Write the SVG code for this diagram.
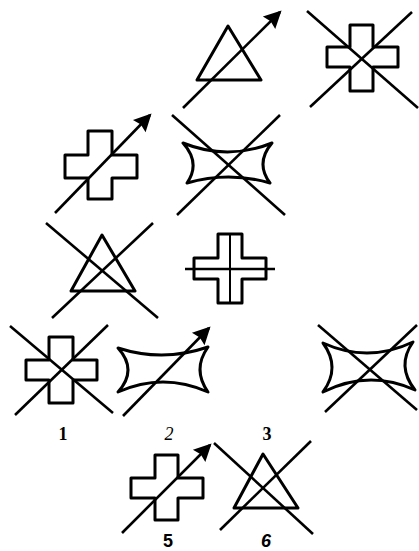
<svg xmlns="http://www.w3.org/2000/svg" width="419" height="551" viewBox="0 0 419 551">
<style>
.s{fill:none;stroke:#000;stroke-width:3;stroke-linejoin:round}
.l{fill:none;stroke:#000;stroke-width:2.6;stroke-linecap:butt}
.a{fill:none;stroke:#000;stroke-width:2.6;marker-end:url(#ah)}
.n{font-size:18px;fill:#000}
</style>
<defs>
<marker id="ah" markerUnits="userSpaceOnUse" markerWidth="22" markerHeight="22" refX="14" refY="0" viewBox="-2 -10 20 20" orient="auto">
<path d="M0,-8 L16,0 L0,8 L2,0 Z" fill="#000"/>
</marker>
</defs>
<rect width="419" height="551" fill="#fff"/>
<g id="fig-tri-arrow-top">
<path class="s" d="M228,26 L261,80 L197,80 Z"/>
</g>
<g id="fig-cross-x-top">
<path class="s" d="M350,25 H373 V47 H398 V67 H373 V91 H350 V67 H327 V47 H350 Z"/>
</g>
<g id="fig-cross-arrow">
<path class="s" d="M88,131 H112 V155 H137 V178 H112 V199 H88 V178 H65 V155 H88 Z"/>
</g>
<g id="fig-concave-x">
<path class="s" d="M183,143 Q227.5,161 272,143 Q255,163 270,183 Q228.5,171 187,183 Q201,163 183,143 Z"/>
</g>
<g id="fig-tri-x">
<path class="s" d="M102,235 L135,291 L71,291 Z"/>
</g>
<g id="fig-cross-line">
<path class="s" d="M218,234 H242 V258 H266 V279 H242 V303 H218 V279 H194 V258 H218 Z"/>
<line class="l" x1="230" y1="234" x2="230" y2="303" style="stroke-width:2"/>
</g>
<g id="fig-1">
<path class="s" d="M49,337 H73 V360 H97 V380 H73 V403 H49 V380 H26 V360 H49 Z"/>
<text class="n" x="63" y="440" text-anchor="middle" font-family="Liberation Serif, serif" font-weight="bold">1</text>
</g>
<g id="fig-2">
<path class="s" d="M118,348 Q163,362.5 208,347 Q192,369.5 208,392 Q163,372 118,392 Q138,370 118,348 Z"/>
<text class="n" x="169" y="440" text-anchor="middle" font-family="Liberation Serif, serif" font-style="italic">2</text>
</g>
<g id="fig-3">
<path class="s" d="M323,343 Q368,363.5 413,342 Q396,366 415,390 Q369,369 323,392 Q341,367.5 323,343 Z"/>
<text class="n" x="267" y="440" text-anchor="middle" font-family="Liberation Serif, serif" font-weight="bold">3</text>
</g>
<g id="fig-5">
<path class="s" d="M155,455 H178 V478 H203 V498 H178 V520 H155 V498 H131 V478 H155 Z"/>
<text class="n" x="168" y="547" text-anchor="middle" font-family="Liberation Sans, sans-serif" font-weight="bold" font-size="17">5</text>
</g>
<g id="fig-6">
<path class="s" d="M263,454 L298,508 L234,508 Z"/>
<text class="n" x="266" y="547" text-anchor="middle" font-family="Liberation Sans, sans-serif" font-weight="bold" font-style="italic" font-size="17">6</text>
</g>
<g id="connectors">
<line class="a" x1="183" y1="108" x2="280" y2="12"/>
<line class="l" x1="307" y1="11" x2="418" y2="108"/>
<line class="l" x1="412" y1="12" x2="310" y2="107"/>
<line class="a" x1="55" y1="213" x2="150" y2="115"/>
<line class="l" x1="172" y1="115" x2="285" y2="215"/>
<line class="l" x1="280" y1="115" x2="177" y2="215"/>
<line class="l" x1="46" y1="223" x2="158" y2="318"/>
<line class="l" x1="153" y1="223" x2="52" y2="318"/>
<line class="l" x1="185" y1="269" x2="275" y2="269"/>
<line class="l" x1="10" y1="326" x2="113" y2="413"/>
<line class="l" x1="108" y1="325" x2="15" y2="415"/>
<line class="a" x1="123" y1="416" x2="209" y2="328"/>
<line class="l" x1="318" y1="325" x2="417" y2="410"/>
<line class="l" x1="417" y1="325" x2="325" y2="412"/>
<line class="a" x1="122" y1="533" x2="210" y2="445"/>
<line class="l" x1="214" y1="443" x2="313" y2="534"/>
<line class="l" x1="311" y1="441" x2="220" y2="530"/>
</g>
</svg>
